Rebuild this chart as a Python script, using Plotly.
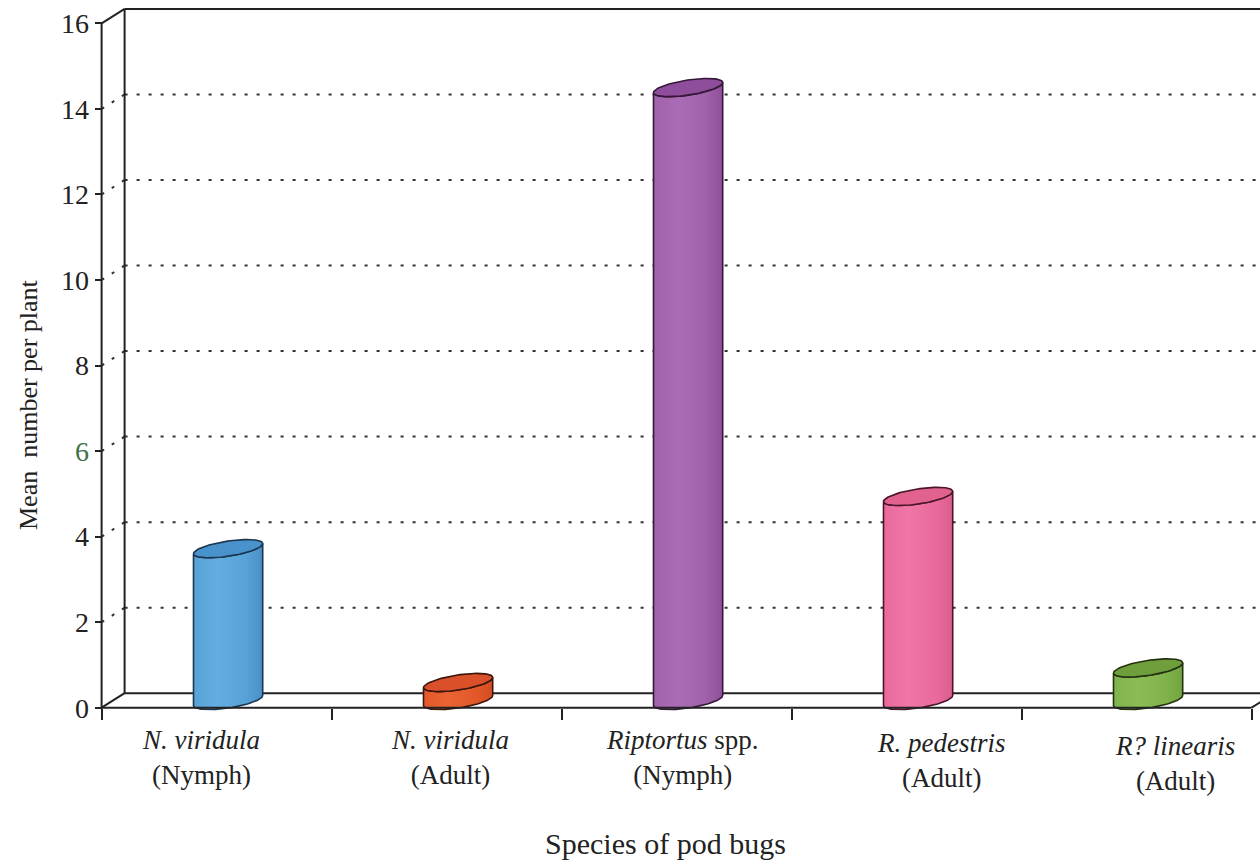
import numpy as np
import plotly.graph_objects as go

# ---- data -------------------------------------------------------------
species_line1 = ["<i>N. viridula</i>", "<i>N. viridula</i>", "<i>Riptortus</i> spp.",
                 "<i>R. pedestris</i>", "<i>R? linearis</i>"]
species_line2 = ["(Nymph)", "(Adult)", "(Nymph)", "(Adult)", "(Adult)"]
mean_per_plant = [3.55, 0.42, 14.33, 4.77, 0.76]
y_tick_values = [0, 2, 4, 6, 8, 10, 12, 14, 16]
y_tick_text = ["0", "2", "4", "<span style='color:#3f7048'>6</span>", "8", "10", "12", "14", "16"]

# ---- styles -----------------------------------------------------------
body_base = ["#58a2d8", "#e3582a", "#a062ab", "#e96a9c", "#80b34b"]
body_light = ["#64ade0", "#ea6433", "#aa6cb4", "#ef76a6", "#8abd55"]
body_dark = ["#4a90c6", "#d24d22", "#904f9b", "#dc5d8f", "#72a441"]
cap_color = ["#4a92cb", "#d9502a", "#8f4e9b", "#e2628f", "#6f9f3d"]
edge_color = ["#1c3550", "#3b160a", "#351838", "#4a1528", "#24320f"]
label_dx = [-16, 3, 6, 35, 38]
label_dy = [-50, -50, -50, -53, -56]

FONT = "Liberation Serif, Times New Roman, serif"
INK = "#222222"

# ---- canvas / scale ---------------------------------------------------
W, H = 1260, 860
M_L, M_R, M_T, M_B = 97, 0, 0, 148
PX_X, PX_Y = 230.0, 42.77          # pixels per data unit
X0, Y0 = -0.52, -0.1
X1 = X0 + (W - M_L - M_R) / PX_X
Y1 = Y0 + (H - M_T - M_B) / PX_Y

DX = 23 / PX_X                     # oblique depth offset of the back wall
DY = 14.5 / PX_Y
LEFT, RIGHT = -0.5, 4.5
TOP = 16

# cylinder geometry (pixels)
R_A, R_B, TILT = 35.0, 7.5, np.radians(8.7)


def ellipse(cx, cy, t0, t1, n=60):
    t = np.linspace(t0, t1, n)
    px = R_A * np.cos(t) * np.cos(TILT) - R_B * np.sin(t) * np.sin(TILT)
    py = R_A * np.cos(t) * np.sin(TILT) + R_B * np.sin(t) * np.cos(TILT)
    return cx + px / PX_X, cy + py / PX_Y


fig = go.Figure()

# ---- frame: walls, floor and gridlines ---------------------------------
shapes = []
solid = dict(color=INK, width=2)
dotted = dict(color="#333333", width=2, dash="3px,9px")

for v in y_tick_values:
    style = solid if v in (0, TOP) else dotted
    shapes.append(dict(type="line", xref="x", yref="y", layer="below",
                       x0=LEFT + DX, y0=v + DY, x1=X1 + 0.2, y1=v + DY, line=style))
    shapes.append(dict(type="line", xref="x", yref="y", layer="below",
                       x0=LEFT, y0=v, x1=LEFT + DX, y1=v + DY, line=style))

shapes += [
    dict(type="line", xref="x", yref="y", layer="below",
         x0=LEFT, y0=0, x1=LEFT, y1=TOP, line=solid),
    dict(type="line", xref="x", yref="y", layer="below",
         x0=LEFT + DX, y0=DY, x1=LEFT + DX, y1=TOP + DY, line=solid),
    dict(type="line", xref="x", yref="y", layer="below",
         x0=RIGHT, y0=0, x1=RIGHT + DX, y1=DY, line=solid),
    dict(type="line", xref="x", yref="y", layer="above",
         x0=LEFT, y0=0, x1=RIGHT, y1=0, line=solid),
]

# ---- cylinders ----------------------------------------------------------
for i, val in enumerate(mean_per_plant):
    cx = i + DX / 2
    base = DY / 2
    top = base + val
    tx, ty = ellipse(cx, top, np.pi, 2 * np.pi)
    bx, by = ellipse(cx, base, 2 * np.pi, np.pi)
    xs = np.concatenate([tx, bx, tx[:1]])
    ys = np.concatenate([ty, by, ty[:1]])
    fig.add_trace(go.Scatter(
        x=xs, y=ys, mode="lines", fill="toself",
        fillcolor=body_base[i],
        fillgradient=dict(type="horizontal", colorscale=[
            [0.0, body_base[i]], [0.35, body_light[i]],
            [0.75, body_base[i]], [1.0, body_dark[i]]]),
        line=dict(color=edge_color[i], width=1.6),
        hoverinfo="skip", showlegend=False))
    ex, ey = ellipse(cx, top, 0, 2 * np.pi, 90)
    fig.add_trace(go.Scatter(
        x=ex, y=ey, mode="lines", fill="toself", fillcolor=cap_color[i],
        line=dict(color=edge_color[i], width=1.6),
        hoverinfo="skip", showlegend=False))

# ---- category labels ------------------------------------------------------
annotations = []
for i in range(len(species_line1)):
    annotations.append(dict(x=i, y=0, xref="x", yref="y",
                            text=species_line1[i] + "<br>" + species_line2[i],
                            showarrow=False, xanchor="center", yanchor="middle",
                            align="center", xshift=label_dx[i], yshift=label_dy[i],
                            font=dict(family=FONT, size=27, color=INK)))

plot_w = W - M_L - M_R
plot_h = H - M_T - M_B
annotations.append(dict(x=(665 - M_L) / plot_w, y=(plot_h - 843) / plot_h,
                        xref="paper", yref="paper", text="Species of pod bugs",
                        showarrow=False, xanchor="center", yanchor="middle",
                        font=dict(family=FONT, size=30, color=INK)))
annotations.append(dict(x=(28 - M_L) / plot_w, y=(plot_h - 405) / plot_h,
                        xref="paper", yref="paper", text="Mean  number per plant",
                        textangle=-90, showarrow=False,
                        xanchor="center", yanchor="middle",
                        font=dict(family=FONT, size=26, color=INK)))

fig.update_layout(
    width=W, height=H,
    margin=dict(l=M_L, r=M_R, t=M_T, b=M_B),
    paper_bgcolor="white", plot_bgcolor="white",
    shapes=shapes, annotations=annotations,
    xaxis=dict(range=[X0, X1], showgrid=False, zeroline=False, showline=False,
               anchor="free", position=(0 - Y0) / (Y1 - Y0),
               tickmode="array", tickvals=[LEFT + k for k in range(6)],
               ticktext=[""] * 6, ticks="outside", ticklen=11, tickwidth=2,
               tickcolor=INK, fixedrange=True),
    yaxis=dict(range=[Y0, Y1], showgrid=False, zeroline=False, showline=False,
               anchor="free", position=(LEFT - X0) / (X1 - X0),
               tickmode="array", tickvals=y_tick_values, ticktext=y_tick_text,
               ticks="outside", ticklen=7, tickwidth=2, tickcolor=INK,
               tickfont=dict(family=FONT, size=28, color=INK), fixedrange=True),
)

fig.write_html("out.html")
